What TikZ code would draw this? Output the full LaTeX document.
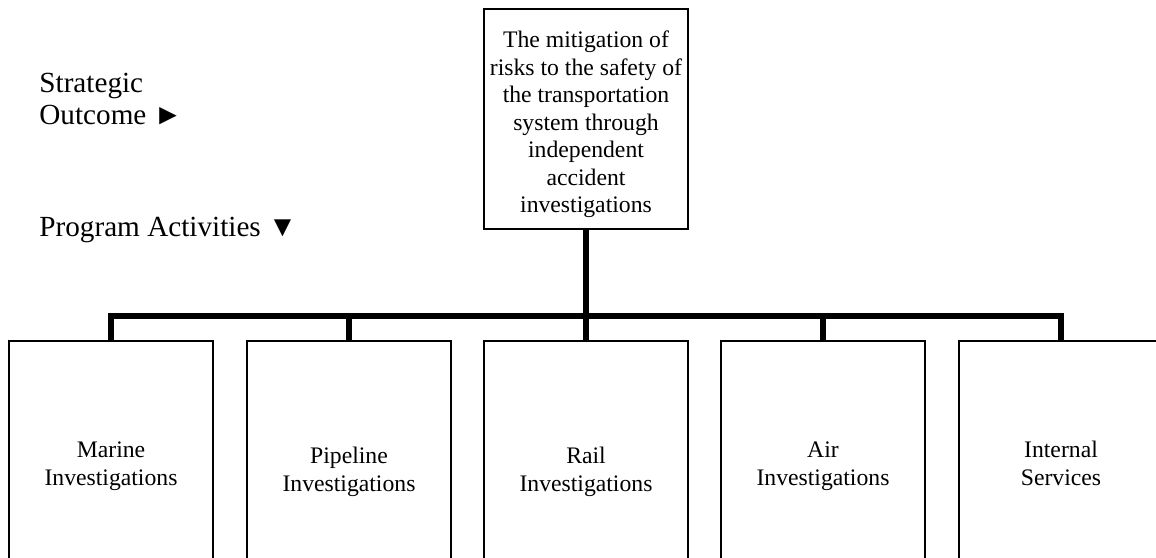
\documentclass[tikz,border=0pt]{standalone}
\usepackage{fontspec}
\setmainfont{Liberation Serif}
\usepackage{tikz}

\begin{document}
\begin{tikzpicture}[x = 0.5pt, y = 0.5pt,
        box/.style = {draw, line width = 1pt, minimum width = 102pt, inner sep = 0pt, align = center, font = \fontsize{11.85}{13.75}\selectfont},
        activity/.style = {box, anchor = north, minimum height = 125pt},
        bar/.style = {line width = 3pt, line join = miter},
        sidetext/.style = {inner sep = 0pt, align = left, font = \fontsize{14.6}{16}\selectfont}]
        \useasboundingbox (0,0) rectangle (1156,557);
        \clip (0,0) rectangle (1156,557);

        \node[box, minimum height = 110pt] (outcome) at (586,438) {\rule{0pt}{14pt}The mitigation of\\risks to the safety of\\the transportation\\system through\\independent\\accident\\investigations};

        \node[activity] (marine) at (111,217) {Marine\\Investigations};
        \node[activity, minimum height = 131pt] (pipeline) at (349,217) {Pipeline\\Investigations};
        \node[activity, minimum height = 131pt] (rail) at (586,217) {Rail\\Investigations};
        \node[activity] (air) at (823,217) {Air\\Investigations};
        \node[activity] (internal) at (1061,217) {Internal\\Services\vphantom{g}};

        \coordinate (bus) at (586,241);
        \draw[bar] (outcome.south) -- (bus);
        \draw[bar] (marine.north) -- (marine.north |- bus) -- (internal.north |- bus) -- (internal.north);
        \draw[bar] (pipeline.north) -- (pipeline.north |- bus);
        \draw[bar] (rail.north) -- (rail.north |- bus);
        \draw[bar] (air.north) -- (air.north |- bus);

        \node[sidetext, anchor = north west] (strategic) at (39,484) {Strategic\\Outcome ►};
        \node[sidetext, anchor = base west] (programs) at (39,320) {Program Activities ▼};
\end{tikzpicture}
\end{document}
